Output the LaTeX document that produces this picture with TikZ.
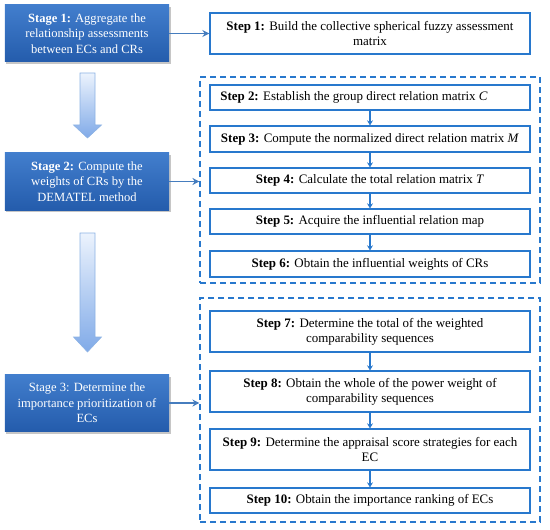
\documentclass[tikz,border=0pt]{standalone}
\usepackage{fontspec}
\setmainfont{Liberation Serif}
\usetikzlibrary{shadows,arrows.meta}
\definecolor{stagetop}{RGB}{66,126,205}
\definecolor{stagebot}{RGB}{36,92,172}
\definecolor{stepblue}{RGB}{40,120,205}
\definecolor{linkblue}{RGB}{70,125,190}
\definecolor{bigtop}{RGB}{236,243,253}
\definecolor{bigbot}{RGB}{128,170,232}
\definecolor{bigedge}{RGB}{140,178,228}
\begin{document}
\begin{tikzpicture}[x=1bp,y=-1bp,
  stagebox/.style={rectangle, minimum width=164bp, minimum height=57bp, inner sep=2bp,
    top color=stagetop, bottom color=stagebot, draw=none, text=white, align=center,
    font=\fontsize{12.6}{15.5}\selectfont,
    drop shadow={opacity=0.45, shadow xshift=1.5bp, shadow yshift=-2bp}},
  stepbox/.style={rectangle, minimum width=320bp, draw=stepblue, line width=1.3bp, fill=white,
    align=center, inner sep=2bp, font=\fontsize{13}{15}\selectfont},
  groupbox/.style={rectangle, draw=stepblue, line width=1.1bp, dash pattern=on 6bp off 4bp,
    minimum width=340bp, inner sep=0pt},
  link/.style={-{Stealth[length=5bp,width=6bp]}, draw=stepblue, line width=1.2bp},
  stagelink/.style={-{Stealth[length=7bp,width=7bp]}, draw=linkblue, line width=1.9bp},
  bigarrow/.style={draw=bigedge, line width=0.6bp, top color=bigtop, bottom color=bigbot}
]
\useasboundingbox (0,0) rectangle (550,530);

% group boxes
\node[groupbox, minimum height=206bp] (g1) at (370,180) {};
\node[groupbox, minimum height=224bp] (g2) at (370,410) {};

% stages
\node[stagebox] (s1) at (87,33.5) {\textbf{Stage 1:} Aggregate the\\relationship assessments\\between ECs and CRs};
\node[stagebox] (s2) at (87,181.5) {\textbf{Stage 2:} Compute the\\weights of CRs by the\\DEMATEL method};
\node[stagebox] (s3) at (87,403) {Stage 3: Determine the\\importance prioritization of\\ECs};

% steps
\node[stepbox, minimum height=41bp] (st1) at (370,33.5) {\textbf{Step 1:} Build the collective spherical fuzzy assessment\\matrix};
\node[stepbox, minimum height=25bp] (st2) at (370,97.5) {\textbf{Step 2:} Establish the group direct relation matrix \textit{C}\hspace*{32bp}};
\node[stepbox, minimum height=26bp] (st3) at (370,139) {\textbf{Step 3:} Compute the normalized direct relation matrix \textit{M}};
\node[stepbox, minimum height=25bp] (st4) at (370,180.5) {\textbf{Step 4:} Calculate the total relation matrix \textit{T}};
\node[stepbox, minimum height=25bp] (st5) at (370,221.5) {\textbf{Step 5:} Acquire the influential relation map};
\node[stepbox, minimum height=26bp] (st6) at (370,264) {\textbf{Step 6:} Obtain the influential weights of CRs};
\node[stepbox, minimum height=41bp] (st7) at (370,331.5) {\textbf{Step 7:} Determine the total of the weighted\\comparability sequences};
\node[stepbox, minimum height=41bp] (st8) at (370,391.5) {\textbf{Step 8:} Obtain the whole of the power weight of\\comparability sequences};
\node[stepbox, minimum height=41bp] (st9) at (370,449.5) {\textbf{Step 9:} Determine the appraisal score strategies for each\\EC};
\node[stepbox, minimum height=25bp] (st10) at (370,500.5) {\textbf{Step 10:} Obtain the importance ranking of ECs};

% step links
\draw[link] (st2) -- (st3);
\draw[link] (st3) -- (st4);
\draw[link] (st4) -- (st5);
\draw[link] (st5) -- (st6);
\draw[link] (st7) -- (st8);
\draw[link] (st8) -- (st9);
\draw[link] (st9) -- (st10);

% stage links
\draw[stagelink] (s1.east) -- (st1.west);
\draw[stagelink] (s2.east) -- (s2.east -| g1.west);
\draw[stagelink] (s3.east) -- (s3.east -| g2.west);

% big down arrows
\path[bigarrow] (80,73) -- (95,73) -- (95,125) -- (101.5,125) -- (87.5,138) -- (73.5,125) -- (80,125) -- cycle;
\path[bigarrow] (80,233) -- (95,233) -- (95,337) -- (101.5,337) -- (87.5,352) -- (73.5,337) -- (80,337) -- cycle;
\end{tikzpicture}
\end{document}
